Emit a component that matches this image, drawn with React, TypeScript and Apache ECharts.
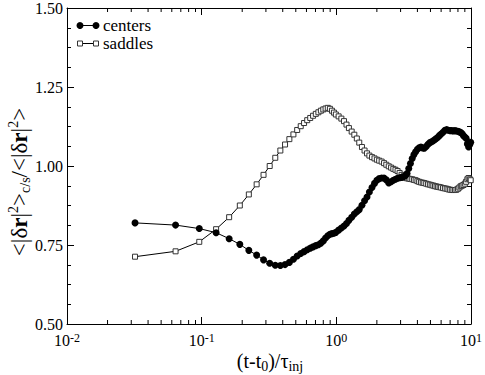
import React, { useEffect, useRef } from "react";
import * as echarts from "echarts";

// ---- data ----
const CENTERS_T = [0.032,0.064,0.096,0.128,0.16,0.192,0.224,0.256,0.288,0.32,0.352,0.384,0.416,0.448,0.48,0.512,0.544,0.576,0.608,0.64,0.672,0.704,0.736,0.768,0.8,0.832,0.864,0.896,0.928,0.96,0.992,1.04,1.09,1.14,1.19,1.24,1.3,1.36,1.42,1.48,1.55,1.62,1.69,1.76,1.84,1.92,2.0,2.08,2.17,2.26,2.35,2.45,2.55,2.65,2.75,2.85,2.95,3.05,3.15,3.25,3.35,3.45,3.55,3.66,3.77,3.88,4.0,4.12,4.25,4.38,4.5,4.65,4.8,4.95,5.1,5.25,5.4,5.55,5.7,5.85,6.0,6.2,6.4,6.6,6.8,7.0,7.2,7.4,7.6,7.8,8.0,8.2,8.4,8.6,8.8,9.0,9.2,9.4,9.6,9.8,9.95];
const CENTERS_R = [0.820,0.813,0.802,0.789,0.770,0.752,0.733,0.718,0.703,0.692,0.686,0.685,0.688,0.695,0.705,0.715,0.723,0.729,0.735,0.740,0.744,0.748,0.751,0.756,0.763,0.772,0.779,0.784,0.786,0.787,0.790,0.797,0.804,0.810,0.818,0.828,0.838,0.848,0.855,0.862,0.876,0.890,0.902,0.918,0.932,0.945,0.955,0.960,0.962,0.962,0.956,0.946,0.950,0.955,0.958,0.961,0.963,0.964,0.966,0.969,0.976,0.992,1.008,1.024,1.036,1.045,1.053,1.058,1.060,1.057,1.056,1.062,1.069,1.074,1.077,1.080,1.084,1.088,1.092,1.097,1.101,1.107,1.113,1.115,1.113,1.112,1.112,1.111,1.112,1.111,1.110,1.108,1.106,1.102,1.096,1.092,1.088,1.070,1.060,1.068,1.075];

const SADDLES_T = [0.032,0.064,0.096,0.128,0.16,0.192,0.224,0.256,0.288,0.32,0.352,0.384,0.416,0.448,0.48,0.512,0.544,0.576,0.608,0.64,0.672,0.704,0.736,0.768,0.8,0.832,0.864,0.896,0.928,0.96,0.992,1.04,1.09,1.14,1.19,1.24,1.3,1.36,1.42,1.48,1.55,1.62,1.69,1.76,1.84,1.92,2.0,2.08,2.17,2.26,2.35,2.45,2.55,2.65,2.75,2.85,2.95,3.05,3.15,3.25,3.35,3.45,3.55,3.66,3.77,3.88,4.0,4.12,4.25,4.38,4.5,4.65,4.8,4.95,5.1,5.25,5.4,5.55,5.7,5.85,6.0,6.2,6.4,6.6,6.8,7.0,7.2,7.4,7.6,7.8,8.0,8.2,8.4,8.6,8.8,9.0,9.2,9.4,9.6,9.8,9.95];
const SADDLES_R = [0.713,0.730,0.760,0.800,0.838,0.875,0.910,0.942,0.972,1.000,1.026,1.049,1.068,1.085,1.100,1.114,1.126,1.136,1.145,1.152,1.159,1.165,1.170,1.175,1.179,1.182,1.184,1.181,1.175,1.169,1.163,1.157,1.150,1.142,1.131,1.120,1.109,1.099,1.087,1.074,1.060,1.049,1.040,1.033,1.028,1.024,1.020,1.017,1.014,1.009,1.004,0.999,0.995,0.991,0.988,0.984,0.978,0.972,0.967,0.963,0.961,0.960,0.959,0.958,0.956,0.955,0.952,0.950,0.948,0.947,0.946,0.944,0.942,0.941,0.939,0.938,0.936,0.935,0.934,0.933,0.932,0.930,0.929,0.928,0.926,0.925,0.924,0.924,0.924,0.925,0.928,0.932,0.936,0.938,0.940,0.944,0.950,0.958,0.962,0.958,0.955];

const SERIES_NAMES = ["centers", "saddles"];
const X_MIN = 0.01;
const X_MAX = 10;
const Y_MIN = 0.5;
const Y_MAX = 1.5;
const Y_STEP = 0.25;
const MINOR_MULTIPLIERS = [2, 3, 4, 5, 6, 7, 8, 9];
const DECADES = [0.01, 0.1, 1];

const FONT = "Liberation Serif";

export default function App() {
  const ref = useRef<HTMLDivElement>(null);

  useEffect(() => {
    if (!ref.current) return;
    const chart = echarts.init(ref.current, null, { renderer: "svg" });

    const centers = CENTERS_T.map((t, i) => [t, CENTERS_R[i]]);
    const saddles = SADDLES_T.map((t, i) => [t, SADDLES_R[i]]);
    const minorData: number[][] = [];
    DECADES.forEach((d) => MINOR_MULTIPLIERS.forEach((m) => minorData.push([m * d, Y_MIN])));

    const supRich = {
      b: { fontFamily: FONT, fontSize: 16, color: "#000", lineHeight: 16 },
      s: { fontFamily: FONT, fontSize: 12, color: "#000", lineHeight: 2, verticalAlign: "top" as const },
    };

    const xAxisBase = {
      type: "log" as const,
      logBase: 10,
      min: X_MIN,
      max: X_MAX,
      axisLine: { show: true, onZero: false, lineStyle: { color: "#000", width: 1 } },
      axisTick: { show: true, inside: true, length: 7, lineStyle: { color: "#000", width: 1 } },
      splitLine: { show: false },
      minorTick: { show: false },
    };
    const yAxisBase = {
      type: "value" as const,
      min: Y_MIN,
      max: Y_MAX,
      interval: Y_STEP,
      axisLine: { show: true, onZero: false, lineStyle: { color: "#000", width: 1 } },
      axisTick: { show: true, inside: true, length: 7, lineStyle: { color: "#000", width: 1 } },
      minorTick: { show: true, splitNumber: 4, length: 4, lineStyle: { color: "#000", width: 1 } },
      splitLine: { show: false },
      minorSplitLine: { show: false },
    };

    const legendY1 = 25.5;
    const legendY2 = 43.5;
    const legendText = { fontFamily: FONT, fontSize: 17, fill: "#000", verticalAlign: "middle", align: "left" };

    chart.setOption({
      animation: false,
      backgroundColor: "#fff",
      textStyle: { fontFamily: FONT, color: "#000" },
      grid: { left: 67, right: 13, top: 7, bottom: 51, containLabel: false },
      xAxis: [
        {
          ...xAxisBase,
          position: "bottom",
          axisLabel: {
            margin: 8,
            fontFamily: FONT,
            fontSize: 16,
            color: "#000",
            formatter: (v: number) => `{b|10}{s|${Math.round(Math.log10(v))}}`,
            rich: supRich,
          },
        },
        { ...xAxisBase, position: "top", axisLabel: { show: false } },
      ],
      yAxis: [
        {
          ...yAxisBase,
          position: "left",
          axisLabel: {
            margin: 4,
            fontFamily: FONT,
            fontSize: 16,
            lineHeight: 14,
            color: "#000",
            formatter: (v: number) => v.toFixed(2),
          },
        },
        { ...yAxisBase, position: "right", axisLabel: { show: false } },
      ],
      series: [
        {
          name: SERIES_NAMES[1],
          type: "line",
          data: saddles,
          symbol: "rect",
          symbolSize: 5,
          showAllSymbol: true,
          itemStyle: { color: "#fff", borderColor: "#333", borderWidth: 1 },
          lineStyle: { color: "#000", width: 1 },
          emphasis: { disabled: true },
          z: 3,
        },
        {
          name: SERIES_NAMES[0],
          type: "line",
          data: centers,
          symbol: "circle",
          symbolSize: 7,
          showAllSymbol: true,
          itemStyle: { color: "#000" },
          lineStyle: { color: "#000", width: 1 },
          emphasis: { disabled: true },
          z: 4,
        },
        {
          type: "custom",
          coordinateSystem: "cartesian2d",
          xAxisIndex: 0,
          yAxisIndex: 0,
          silent: true,
          clip: false,
          z: 6,
          data: minorData,
          renderItem: (_params: any, api: any) => {
            const v = api.value(0);
            const b = api.coord([v, Y_MIN]);
            const t = api.coord([v, Y_MAX]);
            return {
              type: "group",
              children: [
                { type: "line", shape: { x1: b[0], y1: b[1], x2: b[0], y2: b[1] - 4 }, style: { stroke: "#000", lineWidth: 1 } },
                { type: "line", shape: { x1: t[0], y1: t[1], x2: t[0], y2: t[1] + 4 }, style: { stroke: "#000", lineWidth: 1 } },
              ],
            };
          },
        },
      ],
      graphic: [
        // legend: centers
        { type: "line", shape: { x1: 80, y1: legendY1, x2: 96, y2: legendY1 }, style: { stroke: "#000", lineWidth: 1 }, z: 10 },
        { type: "circle", shape: { cx: 80, cy: legendY1, r: 3.5 }, style: { fill: "#000" }, z: 10 },
        { type: "circle", shape: { cx: 96, cy: legendY1, r: 3.5 }, style: { fill: "#000" }, z: 10 },
        { type: "text", x: 103, y: legendY1, style: { ...legendText, text: SERIES_NAMES[0] }, z: 10 },
        // legend: saddles
        { type: "line", shape: { x1: 80, y1: legendY2, x2: 96, y2: legendY2 }, style: { stroke: "#000", lineWidth: 1 }, z: 10 },
        { type: "rect", shape: { x: 77.5, y: legendY2 - 2.5, width: 5, height: 5 }, style: { fill: "#fff", stroke: "#333", lineWidth: 1 }, z: 11 },
        { type: "rect", shape: { x: 93.5, y: legendY2 - 2.5, width: 5, height: 5 }, style: { fill: "#fff", stroke: "#333", lineWidth: 1 }, z: 11 },
        { type: "text", x: 103, y: legendY2, style: { ...legendText, text: SERIES_NAMES[1] }, z: 10 },
        // x axis title
        {
          type: "text",
          x: 270,
          y: 361,
          style: {
            text: "{a|(t-t}{sub|0}{a|)/τ}{sub|inj}",
            align: "center",
            verticalAlign: "middle",
            rich: {
              a: { fontFamily: FONT, fontSize: 20, fill: "#000", lineHeight: 24 },
              sub: { fontFamily: FONT, fontSize: 14, fill: "#000", lineHeight: 14, verticalAlign: "bottom" },
            },
          },
        },
        // y axis title
        {
          type: "text",
          x: 19,
          y: 182,
          rotation: Math.PI / 2,
          style: {
            text: "{a|<|δ}{ab|r}{a||}{sup|2}{a|>}{sub|c/s}{a|/<|δ}{ab|r}{a||}{sup|2}{a|>}",
            align: "center",
            verticalAlign: "middle",
            rich: {
              a: { fontFamily: FONT, fontSize: 23, fill: "#000", lineHeight: 26 },
              ab: { fontFamily: FONT, fontSize: 23, fontWeight: "bold", fill: "#000", lineHeight: 26 },
              sup: { fontFamily: FONT, fontSize: 14, fill: "#000", lineHeight: 14, verticalAlign: "top" },
              sub: { fontFamily: FONT, fontSize: 14, fill: "#000", lineHeight: 14, verticalAlign: "bottom" },
            },
          },
        },
      ],
    });

    return () => chart.dispose();
  }, []);

  return (
    <div
      ref={ref}
      style={{ position: "fixed", left: 0, top: 0, width: 485, height: 375, background: "#fff" }}
    />
  );
}
